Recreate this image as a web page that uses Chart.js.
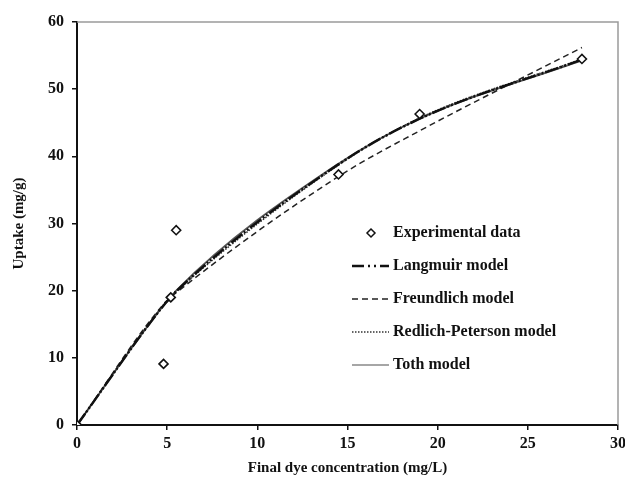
<!DOCTYPE html>
<html>
<head>
<meta charset="utf-8">
<script src="https://cdn.jsdelivr.net/npm/chart.js@4/dist/chart.umd.min.js"></script>
<style>
  html, body { margin: 0; padding: 0; background: #fff; }
  #wrap { width: 625px; height: 479px; }
</style>
</head>
<body>
<div id="wrap"><canvas id="Chart" width="625" height="479"></canvas></div>
<script>
// final dye concentration (mg/L) and uptake (mg/g)
const concValues = [0, 4.8, 5.2, 5.5, 14.5, 19, 28];
const uptakeValues = [0, 9.1, 19.0, 29.0, 37.3, 46.3, 54.5];

// model curves, read at the same concentrations
const langmuirValues = [0, 17.8, 19.0, 19.9, 38.8, 45.6, 54.4];
const freundlichValues = [0, 18.0, 19.0, 19.7, 37.0, 43.8, 56.2];
const redlichValues = [0, 17.9, 19.1, 19.9, 38.7, 45.7, 54.5];
const tothValues = [0, 17.8, 19.0, 20.0, 38.9, 45.6, 54.3];

const seriesNames = ['Experimental data', 'Langmuir model', 'Freundlich model', 'Redlich-Peterson model', 'Toth model'];
const xTicks = [0, 5, 10, 15, 20, 25, 30];
const yTicks = [0, 10, 20, 30, 40, 50, 60];

const serif = "'Liberation Serif', 'Times New Roman', serif";

function toPoints(ys) {
    return concValues.map((x, i) => ({x: x, y: ys[i]}));
}

function lineSet(label, ys, color, width, dash) {
    return {
        label: label,
        data: toPoints(ys),
        showLine: true,
        borderColor: color,
        borderWidth: width,
        borderDash: dash,
        pointRadius: 0,
        cubicInterpolationMode: 'monotone',
        fill: false
    };
}

// legend samples (drawn a bit differently from the overlapping curves)
const legendStyles = [
    null,
    {color: '#111', width: 2.5, dash: [12, 4, 2, 4, 2, 4]},
    {color: '#222', width: 1.5, dash: [6, 4]},
    {color: '#333', width: 1.5, dash: [1.5, 1.5]},
    {color: '#888', width: 1.5, dash: []}
];

// draws the legend inside the plot and the grey top/right frame
const extras = {
    id: 'extras',
    afterDraw(chart) {
        const ctx = chart.ctx;
        const a = chart.chartArea;
        ctx.save();
        ctx.strokeStyle = '#9a9a9a';
        ctx.lineWidth = 1.5;
        ctx.beginPath();
        ctx.moveTo(a.left, a.top);
        ctx.lineTo(a.right, a.top);
        ctx.lineTo(a.right, a.bottom);
        ctx.stroke();

        const x0 = a.left + 275;
        const y0 = a.top + 211;
        const step = 33;
        ctx.font = 'bold 16px ' + serif;
        ctx.textBaseline = 'middle';
        seriesNames.forEach((name, i) => {
            const y = y0 + i * step;
            if (i == 0) {
                const cx = x0 + 19, s = 4;
                ctx.beginPath();
                ctx.moveTo(cx, y - s); ctx.lineTo(cx + s, y);
                ctx.lineTo(cx, y + s); ctx.lineTo(cx - s, y);
                ctx.closePath();
                ctx.fillStyle = '#fff';
                ctx.fill();
                ctx.strokeStyle = '#111';
                ctx.lineWidth = 1.5;
                ctx.setLineDash([]);
                ctx.stroke();
            } else {
                const st = legendStyles[i];
                ctx.beginPath();
                ctx.strokeStyle = st.color;
                ctx.lineWidth = st.width;
                ctx.setLineDash(st.dash);
                ctx.moveTo(x0, y);
                ctx.lineTo(x0 + 37, y);
                ctx.stroke();
            }
            ctx.setLineDash([]);
            ctx.fillStyle = '#111';
            ctx.fillText(name, x0 + 41, y);
        });
        ctx.restore();
    }
};

new Chart('Chart', {
    type: 'scatter',
    data: {
        datasets: [
            {
                label: seriesNames[0],
                data: toPoints(uptakeValues),
                showLine: false,
                pointStyle: 'rectRot',
                pointRadius: 4.5,
                pointBackgroundColor: '#fff',
                pointBorderColor: '#111',
                pointBorderWidth: 1.6,
                order: 0
            },
            Object.assign(lineSet(seriesNames[1], langmuirValues, '#111', 2.5, [14, 2, 2, 2, 2, 2]), {order: 1}),
            Object.assign(lineSet(seriesNames[2], freundlichValues, '#222', 1.5, [6, 4]), {order: 2}),
            Object.assign(lineSet(seriesNames[3], redlichValues, '#333', 1.5, [1.5, 1.5]), {order: 3}),
            Object.assign(lineSet(seriesNames[4], tothValues, '#555', 1.8, []), {order: 4})
        ]
    },
    options: {
        responsive: false,
        animation: false,
        layout: { padding: { top: 22, right: 7, left: 10, bottom: 0 } },
        plugins: {
            legend: { display: false },
            tooltip: { enabled: false }
        },
        scales: {
            x: {
                type: 'linear',
                min: 0, max: 30,
                afterBuildTicks: (s) => { s.ticks = xTicks.map(v => ({value: v})); },
                afterFit: (s) => { s.height = 54; s.paddingRight = 0; },
                border: { color: '#111', width: 2 },
                grid: { drawOnChartArea: false, color: '#111', tickLength: 5, lineWidth: 1.5 },
                ticks: { color: '#111', font: { family: serif, size: 16, weight: 'bold' }, padding: 4, maxRotation: 0 },
                title: {
                    display: true,
                    text: 'Final dye concentration (mg/L)',
                    color: '#111',
                    font: { family: serif, size: 15, weight: 'bold' },
                    padding: { top: 4, bottom: 2 }
                }
            },
            y: {
                type: 'linear',
                min: 0, max: 60,
                afterBuildTicks: (s) => { s.ticks = yTicks.map(v => ({value: v})); },
                afterFit: (s) => { s.width = 67; },
                border: { color: '#111', width: 2 },
                grid: { drawOnChartArea: false, color: '#111', tickLength: 5, lineWidth: 1.5 },
                ticks: { color: '#111', font: { family: serif, size: 16, weight: 'bold' }, padding: 8 },
                title: {
                    display: true,
                    text: 'Uptake (mg/g)',
                    color: '#111',
                    font: { family: serif, size: 15, weight: 'bold' },
                    padding: { top: 0, bottom: 12 }
                }
            }
        }
    },
    plugins: [extras]
});
</script>
</body>
</html>
